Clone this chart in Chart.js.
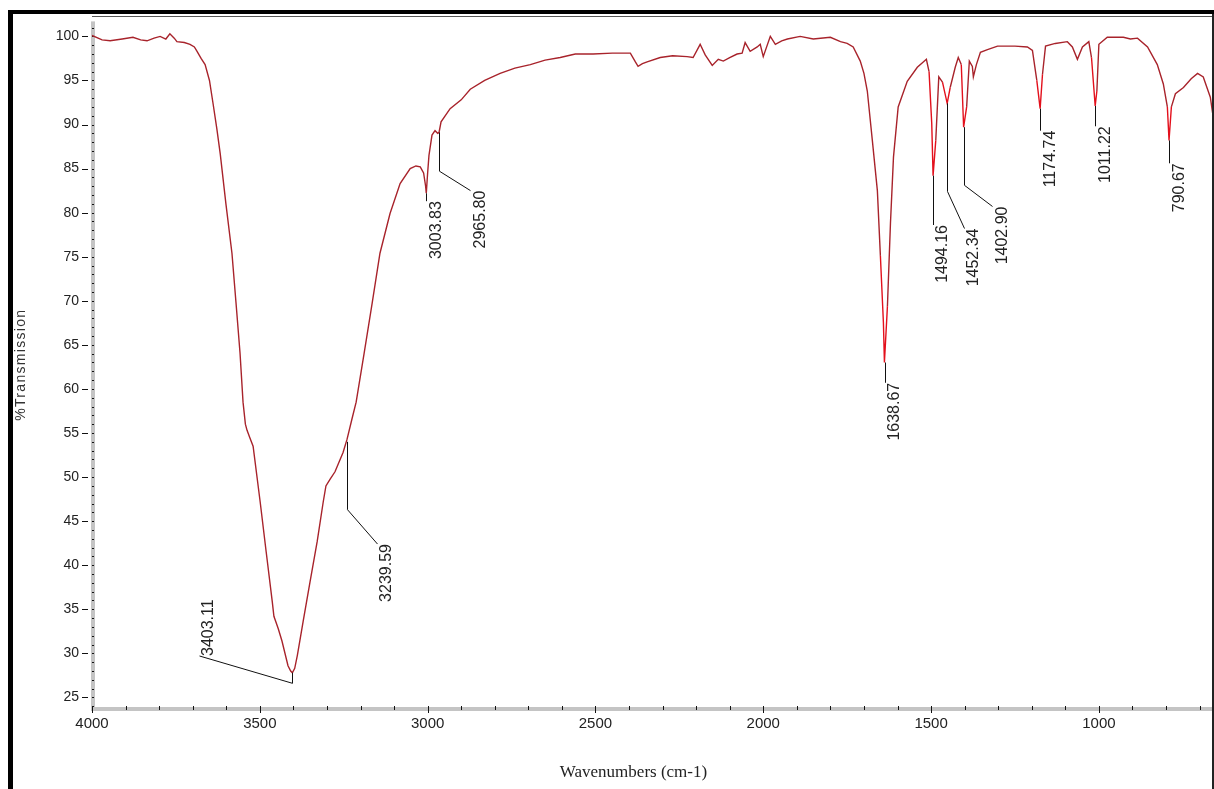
<!DOCTYPE html>
<html>
<head>
<meta charset="utf-8">
<title>IR spectrum</title>
<script src="https://cdn.jsdelivr.net/npm/chart.js@4.4.1/dist/chart.umd.min.js"></script>
<style>
    html, body { margin: 0; padding: 0; background: #fff; }
    #wrap { width: 1214px; height: 789px; position: relative; }
    canvas { display: block; }
</style>
</head>
<body>
<div id="wrap"><canvas id="irChart" width="1214" height="789"></canvas></div>
<script>
// spectrum (wavenumber in cm-1, %T)
var wavenumbers = [
    4000, 3970, 3946, 3910, 3878, 3855, 3836, 3815, 3797, 3780, 3768, 3755, 3747, 3725, 3708, 3695,
    3687, 3675, 3663, 3650, 3639, 3628, 3618, 3601, 3583, 3571, 3559, 3550, 3543, 3538, 3530, 3520,
    3499, 3481, 3463, 3458, 3445, 3434, 3416, 3408, 3403, 3396, 3388, 3371, 3350, 3329, 3311, 3303,
    3290, 3276, 3252, 3240, 3226, 3213, 3189, 3165, 3142, 3112, 3082, 3052, 3035, 3022, 3012, 3006,
    3004, 3000, 2996, 2987, 2978, 2970, 2966, 2960, 2933, 2900, 2873, 2830, 2784, 2740, 2694, 2650,
    2605, 2560, 2507, 2450, 2396, 2381, 2373, 2360, 2346, 2307, 2270, 2227, 2209, 2188, 2173, 2152,
    2134, 2119, 2100, 2078, 2063, 2054, 2039, 2018, 2009, 2000, 1979, 1964, 1945, 1928, 1890, 1851,
    1800, 1770, 1750, 1732, 1711, 1700, 1690, 1675, 1660, 1651, 1642, 1639, 1630, 1621, 1612, 1598,
    1571, 1541, 1514, 1506, 1498, 1494, 1486, 1477, 1466, 1452, 1443, 1428, 1419, 1410, 1403, 1394,
    1386, 1377, 1374, 1365, 1353, 1332, 1302, 1250, 1213, 1198, 1185, 1175, 1168, 1159, 1130, 1094,
    1079, 1064, 1049, 1030, 1022, 1011, 1006, 1000, 975, 950, 927, 906, 885, 855, 826, 808,
    796, 791, 784, 772, 748, 725, 706, 689, 668, 660
];
var transmission = [
    100.1, 99.6, 99.5, 99.7, 99.9, 99.6, 99.5, 99.8, 100.0, 99.7, 100.3, 99.8, 99.4, 99.3, 99.1, 98.8,
    98.3, 97.5, 96.8, 95.0, 92.3, 89.5, 86.7, 81.0, 75.4, 69.8, 64.1, 58.5, 56.0, 55.3, 54.5, 53.5,
    47.2, 41.5, 35.9, 34.2, 32.8, 31.4, 28.6, 28.0, 27.8, 28.3, 29.8, 33.6, 38.2, 42.7, 47.2, 49.0,
    49.8, 50.6, 52.8, 54.3, 56.5, 58.5, 64.1, 69.8, 75.4, 79.9, 83.3, 85.0, 85.3, 85.2, 84.5, 83.0,
    82.2, 84.5, 86.5, 88.8, 89.3, 89.0, 89.1, 90.3, 91.8, 92.8, 94.0, 95.0, 95.8, 96.4, 96.8, 97.3,
    97.6, 98.0, 98.0, 98.1, 98.1, 97.1, 96.6, 96.9, 97.1, 97.6, 97.8, 97.7, 97.6, 99.1, 97.9, 96.7,
    97.4, 97.2, 97.6, 98.0, 98.1, 99.3, 98.3, 98.8, 99.1, 97.7, 100.0, 99.1, 99.5, 99.7, 100.0, 99.7,
    99.9, 99.4, 99.2, 98.8, 97.2, 95.8, 93.8, 88.2, 82.5, 75.1, 67.5, 63.0, 69.4, 78.8, 86.3, 92.0,
    94.9, 96.5, 97.4, 96.0, 90.1, 84.2, 88.2, 95.4, 94.8, 92.4, 94.2, 96.5, 97.6, 96.8, 89.7, 92.0,
    97.2, 96.6, 95.4, 96.8, 98.2, 98.5, 98.9, 98.9, 98.8, 98.4, 95.0, 91.8, 95.7, 98.9, 99.2, 99.4,
    98.8, 97.4, 98.8, 99.4, 97.6, 92.1, 93.8, 99.1, 99.9, 99.9, 99.9, 99.7, 99.8, 98.8, 96.8, 94.6,
    92.0, 88.2, 92.0, 93.5, 94.2, 95.2, 95.8, 95.4, 93.1, 91.0
];

// labelled peaks
var peakWavenumbers = [3403.11, 3239.59, 3003.83, 2965.80, 1638.67, 1494.16, 1452.34, 1402.90, 1174.74, 1011.22, 790.67];
var peakLabels = ['3403.11', '3239.59', '3003.83', '2965.80', '1638.67', '1494.16', '1452.34', '1402.90', '1174.74', '1011.22', '790.67'];

// axis labels
var xTickLabels = [4000, 3500, 3000, 2500, 2000, 1500, 1000];
var yTickLabels = [25, 30, 35, 40, 45, 50, 55, 60, 65, 70, 75, 80, 85, 90, 95, 100];

var X_MIN = 660, X_MAX = 4000, Y_MIN = 23.8, Y_MAX = 101.7;

// leader lines for the peak labels, in data units (wavenumber, %T); the text hangs off the last point
var leaders = [
    { pts: [[3403.11, 27.8], [3403.11, 26.6], [3682, 29.7]], up: true },
    { pts: [[3239.59, 54.0], [3239.59, 46.3], [3151, 42.4]] },
    { pts: [[3003.83, 82.2], [3003.83, 81.3]] },
    { pts: [[2965.80, 89.1], [2965.80, 84.7], [2873, 82.5]] },
    { pts: [[1638.67, 63.0], [1638.67, 60.7]] },
    { pts: [[1494.16, 84.2], [1494.16, 78.6]] },
    { pts: [[1452.34, 92.4], [1452.34, 82.4], [1402, 78.2]] },
    { pts: [[1402.90, 89.7], [1402.90, 83.1], [1317, 80.7]] },
    { pts: [[1174.74, 91.8], [1174.74, 89.3]] },
    { pts: [[1011.22, 92.1], [1011.22, 89.8]] },
    { pts: [[790.67, 88.2], [790.67, 85.6]] }
];

var points = wavenumbers.map(function(w, i) {
    return { x: w, y: transmission[i] };
});

function nearPeak(w) {
    for (var i = 0; i < peakWavenumbers.length; i++) {
        if (peakWavenumbers[i] < 2000 && Math.abs(peakWavenumbers[i] - w) < 4) return true;
    }
    return false;
}

var xMinorTicks = [];
for (var v = 700; v <= 4000; v += 100) xMinorTicks.push(v);
var yMinorTicks = [];
for (var t = 24; t <= 101; t++) yMinorTicks.push(t);

// frame, axis decorations, peak labels and titles
var framePlugin = {
    id: 'frame',
    beforeDatasetsDraw: function(chart) {
        var c = chart.ctx, a = chart.chartArea;
        var xs = chart.scales.x, ys = chart.scales.y;
        c.save();
        // grey axis bars
        c.fillStyle = '#c4c4c4';
        c.fillRect(a.left - 1, a.top, 4, a.bottom - a.top + 3);
        c.fillRect(a.left - 1, a.bottom - 1, a.right - a.left + 1, 4);
        // y ticks
        c.fillStyle = '#111';
        yMinorTicks.forEach(function(t) {
            var py = Math.round(ys.getPixelForValue(t));
            c.fillRect(a.left, py, 2, 1);
        });
        yTickLabels.forEach(function(t) {
            var py = Math.round(ys.getPixelForValue(t));
            c.fillRect(a.left - 10, py, 6, 1);
        });
        // x ticks
        xMinorTicks.forEach(function(w) {
            var px = Math.round(xs.getPixelForValue(w));
            var major = w % 500 === 0;
            c.fillRect(px, a.bottom - 2, 1, major ? 7 : 4);
        });
        c.restore();
    },
    afterDraw: function(chart) {
        var c = chart.ctx, a = chart.chartArea;
        var xs = chart.scales.x, ys = chart.scales.y;
        c.save();

        // peak leaders and labels
        c.strokeStyle = '#111';
        c.lineWidth = 1;
        c.fillStyle = '#222';
        c.font = '16px "Liberation Sans", Arial, sans-serif';
        leaders.forEach(function(ld, i) {
            c.beginPath();
            ld.pts.forEach(function(p, k) {
                var px = Math.round(xs.getPixelForValue(p[0])) + 0.5;
                var py = ys.getPixelForValue(p[1]);
                if (k === 0) c.moveTo(px, py); else c.lineTo(px, py);
            });
            c.stroke();
            var last = ld.pts[ld.pts.length - 1];
            var tx = xs.getPixelForValue(last[0]) + 2;
            var ty = ys.getPixelForValue(last[1]);
            c.save();
            c.translate(tx, ty);
            c.rotate(-Math.PI / 2);
            c.textAlign = ld.up ? 'left' : 'right';
            c.textBaseline = 'top';
            c.fillText(peakLabels[i], 0, 0);
            c.restore();
        });

        // axis titles
        c.fillStyle = '#222';
        c.font = '17px "Liberation Serif", "Times New Roman", serif';
        c.textAlign = 'center';
        c.textBaseline = 'middle';
        c.fillText('Wavenumbers (cm-1)', (a.left + a.right) / 2 - 19, 773);

        c.save();
        c.translate(21, (a.top + a.bottom) / 2);
        c.rotate(-Math.PI / 2);
        c.font = '14px "Liberation Sans", Arial, sans-serif';
        c.letterSpacing = '1.3px';
        c.fillStyle = '#333';
        c.fillText('%Transmission', 0, 0);
        c.restore();

        // outer frame
        c.fillStyle = '#000';
        c.fillRect(8, 10, 5, 779);
        c.fillRect(8, 10, 1206, 4);
        c.fillStyle = '#555';
        c.fillRect(a.left, 16, 1214 - a.left, 1);
        c.fillStyle = '#222';
        c.fillRect(1212, 14, 2, 775);
        c.restore();
    }
};

var ctx = document.getElementById('irChart').getContext('2d');
new Chart(ctx, {
    type: 'line',
    data: {
        datasets: [{
            data: points,
            borderColor: '#a8232b',
            borderWidth: 1.4,
            pointRadius: 0,
            tension: 0,
            fill: false,
            segment: {
                borderColor: function(s) {
                    return (nearPeak(s.p0.parsed.x) || nearPeak(s.p1.parsed.x)) ? '#e3101c' : undefined;
                }
            }
        }]
    },
    options: {
        responsive: false,
        animation: false,
        devicePixelRatio: 1,
        layout: { padding: { top: 17, right: 1, bottom: 0, left: 0 } },
        plugins: {
            legend: { display: false },
            tooltip: { enabled: false }
        },
        scales: {
            x: {
                type: 'linear',
                reverse: true,
                min: X_MIN,
                max: X_MAX,
                afterBuildTicks: function(s) {
                    s.ticks = xTickLabels.map(function(v) { return { value: v }; });
                },
                afterFit: function(s) { s.height = 81; },
                grid: { display: false, drawTicks: false },
                border: { display: false },
                ticks: {
                    autoSkip: false,
                    maxRotation: 0,
                    padding: 7,
                    color: '#222',
                    font: { family: '"Liberation Sans", Arial, sans-serif', size: 15 },
                    callback: function(value) { return String(value); }
                }
            },
            y: {
                min: Y_MIN,
                max: Y_MAX,
                afterBuildTicks: function(s) {
                    s.ticks = yTickLabels.map(function(v) { return { value: v }; });
                },
                afterFit: function(s) { s.width = 92; },
                grid: { display: false, drawTicks: false },
                border: { display: false },
                ticks: {
                    autoSkip: false,
                    padding: 13,
                    color: '#222',
                    font: { family: '"Liberation Sans", Arial, sans-serif', size: 14 },
                    callback: function(value) { return String(value); }
                }
            }
        }
    },
    plugins: [framePlugin]
});
</script>
</body>
</html>
